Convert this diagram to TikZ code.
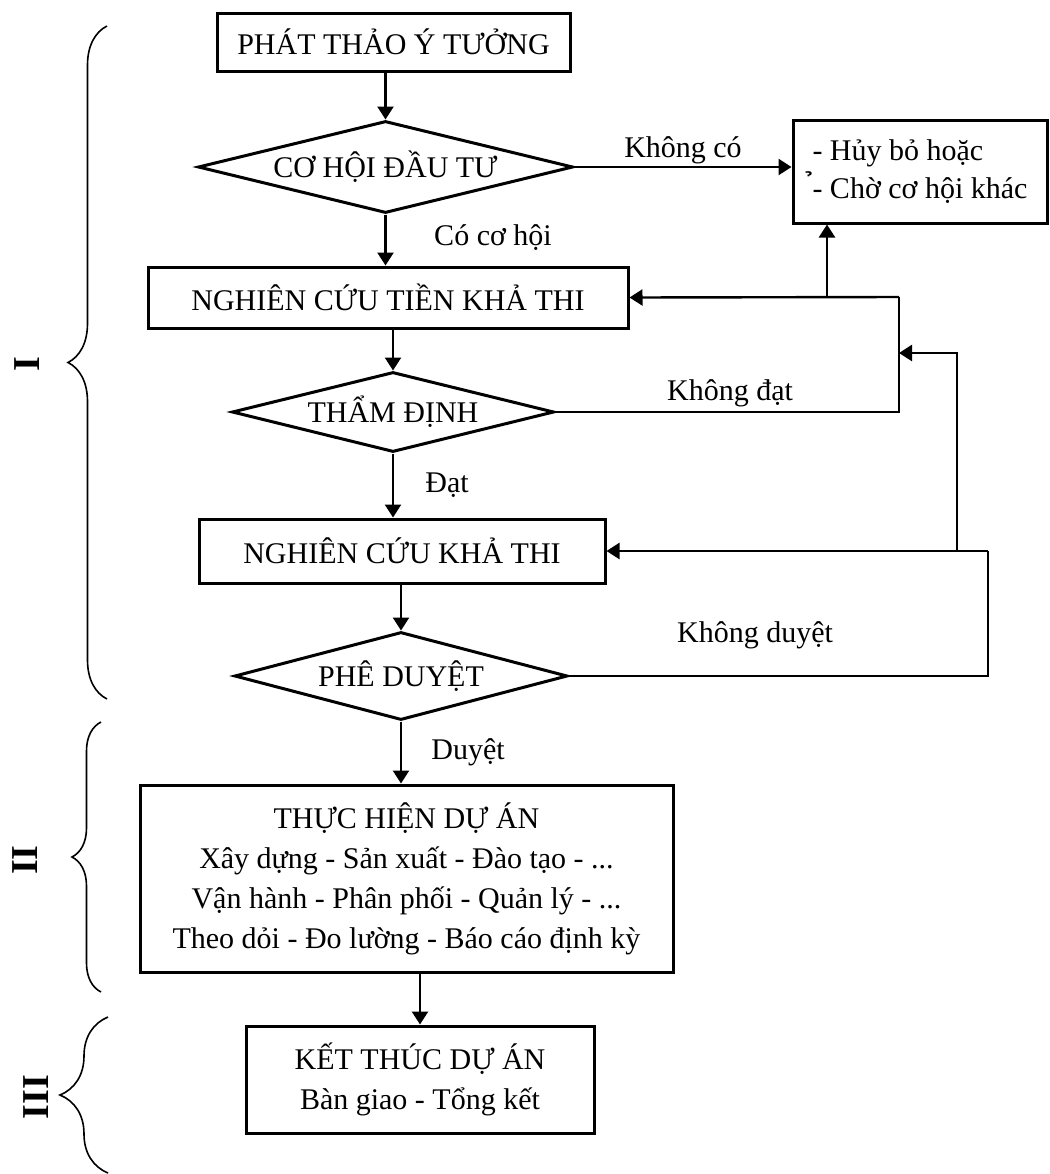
\documentclass[tikz,border=0pt]{standalone}
\usepackage{fontspec}
\setmainfont{Liberation Serif}
\usetikzlibrary{shapes.geometric,arrows.meta,decorations.pathreplacing}

\begin{document}
\begin{tikzpicture}[x=0.5pt,y=0.5pt,yscale=-1,xscale=1,
  font=\fontsize{15}{19}\selectfont,
  stepbox/.style={draw,line width=1.5pt,inner sep=0pt,align=center},
  testbox/.style={draw,diamond,aspect=4,line width=1.5pt,inner sep=0pt},
  arr/.style={line width=1.2pt,-{Triangle[length=6.5pt,width=8pt]}},
  link/.style={line width=1.2pt},
  lbl/.style={inner sep=0.75pt},
  phase/.style={decorate,decoration={brace,amplitude=#1},line width=0.8pt},
  phasenum/.style={rotate=90,inner sep=0pt,font=\fontsize{19}{19}\selectfont\bfseries}]
\useasboundingbox (0,0) rectangle (1050,1174);

% Boxes and tests
\node[stepbox,minimum width=176.5pt,minimum height=29pt] (idea) at (393.5,42) {PHÁT THẢO Ý TƯỞNG};
\node[testbox,minimum width=187.5pt,minimum height=46pt] (chance) at (385.5,167) {CƠ HỘI ĐẦU TƯ};
\node[stepbox,align=left,minimum width=127pt,minimum height=51.5pt] (drop) at (920,171.5) {- Hủy bỏ hoặc\\\llap{^^^^00a0^^^^0309}- Chờ cơ hội khác};
\node[stepbox,minimum width=240pt,minimum height=30.5pt] (pre) at (388,297.5) {NGHIÊN CỨU TIỀN KHẢ THI};
\node[testbox,minimum width=161pt,minimum height=40pt] (check) at (393,412) {THẨM ĐỊNH};
\node[stepbox,minimum width=203pt,minimum height=32pt] (feas) at (402,551) {NGHIÊN CỨU KHẢ THI};
\node[testbox,minimum width=166.5pt,minimum height=44pt] (approve) at (401,676) {PHÊ DUYỆT};
\node[stepbox,minimum width=266.5pt,minimum height=93.5pt,font=\fontsize{15}{20}\selectfont] (run) at (406.5,878.5) {THỰC HIỆN DỰ ÁN\\Xây dựng - Sản xuất - Đào tạo - ...\\Vận hành - Phân phối - Quản lý - ...\\Theo dỏi - Đo lường - Báo cáo định kỳ};
\node[stepbox,minimum width=174pt,minimum height=53.5pt,font=\fontsize{15}{20}\selectfont] (close) at (420,1079.5) {KẾT THÚC DỰ ÁN\\Bàn giao - Tổng kết};

% Loop corners
\coordinate (r1) at (899,297);
\coordinate (b1) at (827,297);
\coordinate (r2) at (988,551);
\coordinate (b2) at (957,551);
\coordinate (b2up) at (957,353);

%Straight Lines
\draw[arr] (idea.south -| chance.north) -- (chance.north);
\draw[arr] (chance.east) -- (chance.east -| drop.west) node[lbl,midway,above] (nochance) {Không có};
\draw[arr] (chance.south) -- (chance.south |- pre.north);
\draw[arr] (pre.south -| check.north) -- (check.north);
\draw[arr] (check.south) -- (check.south |- feas.north);
\draw[arr] (feas.south -| approve.north) -- (approve.north);
\draw[arr] (approve.south) -- (approve.south |- run.north);
\draw[arr] (run.south -| close.north) -- (close.north);
%Loop Lines
\draw[link] (check.east) -| (r1);
\draw[arr] (r1) -- (pre.east);
\draw[arr] (b1) -- (b1 |- drop.south);
\draw[link] (approve.east) -| (r2);
\draw[arr] (r2) -- (feas.east);
\draw[arr] (b2) -- (b2up) -- (b2up -| r1);

% Text Node
\node[lbl] (yes1) at (493,238) {Có cơ hội};
% Text Node
\node[lbl] (fail) at (730,393) {Không đạt};
% Text Node
\node[lbl] (pass) at (447,485) {Đạt};
% Text Node
\node[lbl] (reject) at (755,635) {Không duyệt};
% Text Node
\node[lbl] (accept) at (468,752) {Duyệt};

% Phases
\draw[phase=19.5pt] (107,699) -- (107,26);
\draw[phase=14.5pt] (101,992) -- (101,722);
\draw[phase=24pt] (108,1173) -- (108,1017);
\node[phasenum] (p1) at (27,364) {I};
\node[phasenum] (p2) at (25,860) {II};
\node[phasenum] (p3) at (36,1097) {III};

\end{tikzpicture}
\end{document}
